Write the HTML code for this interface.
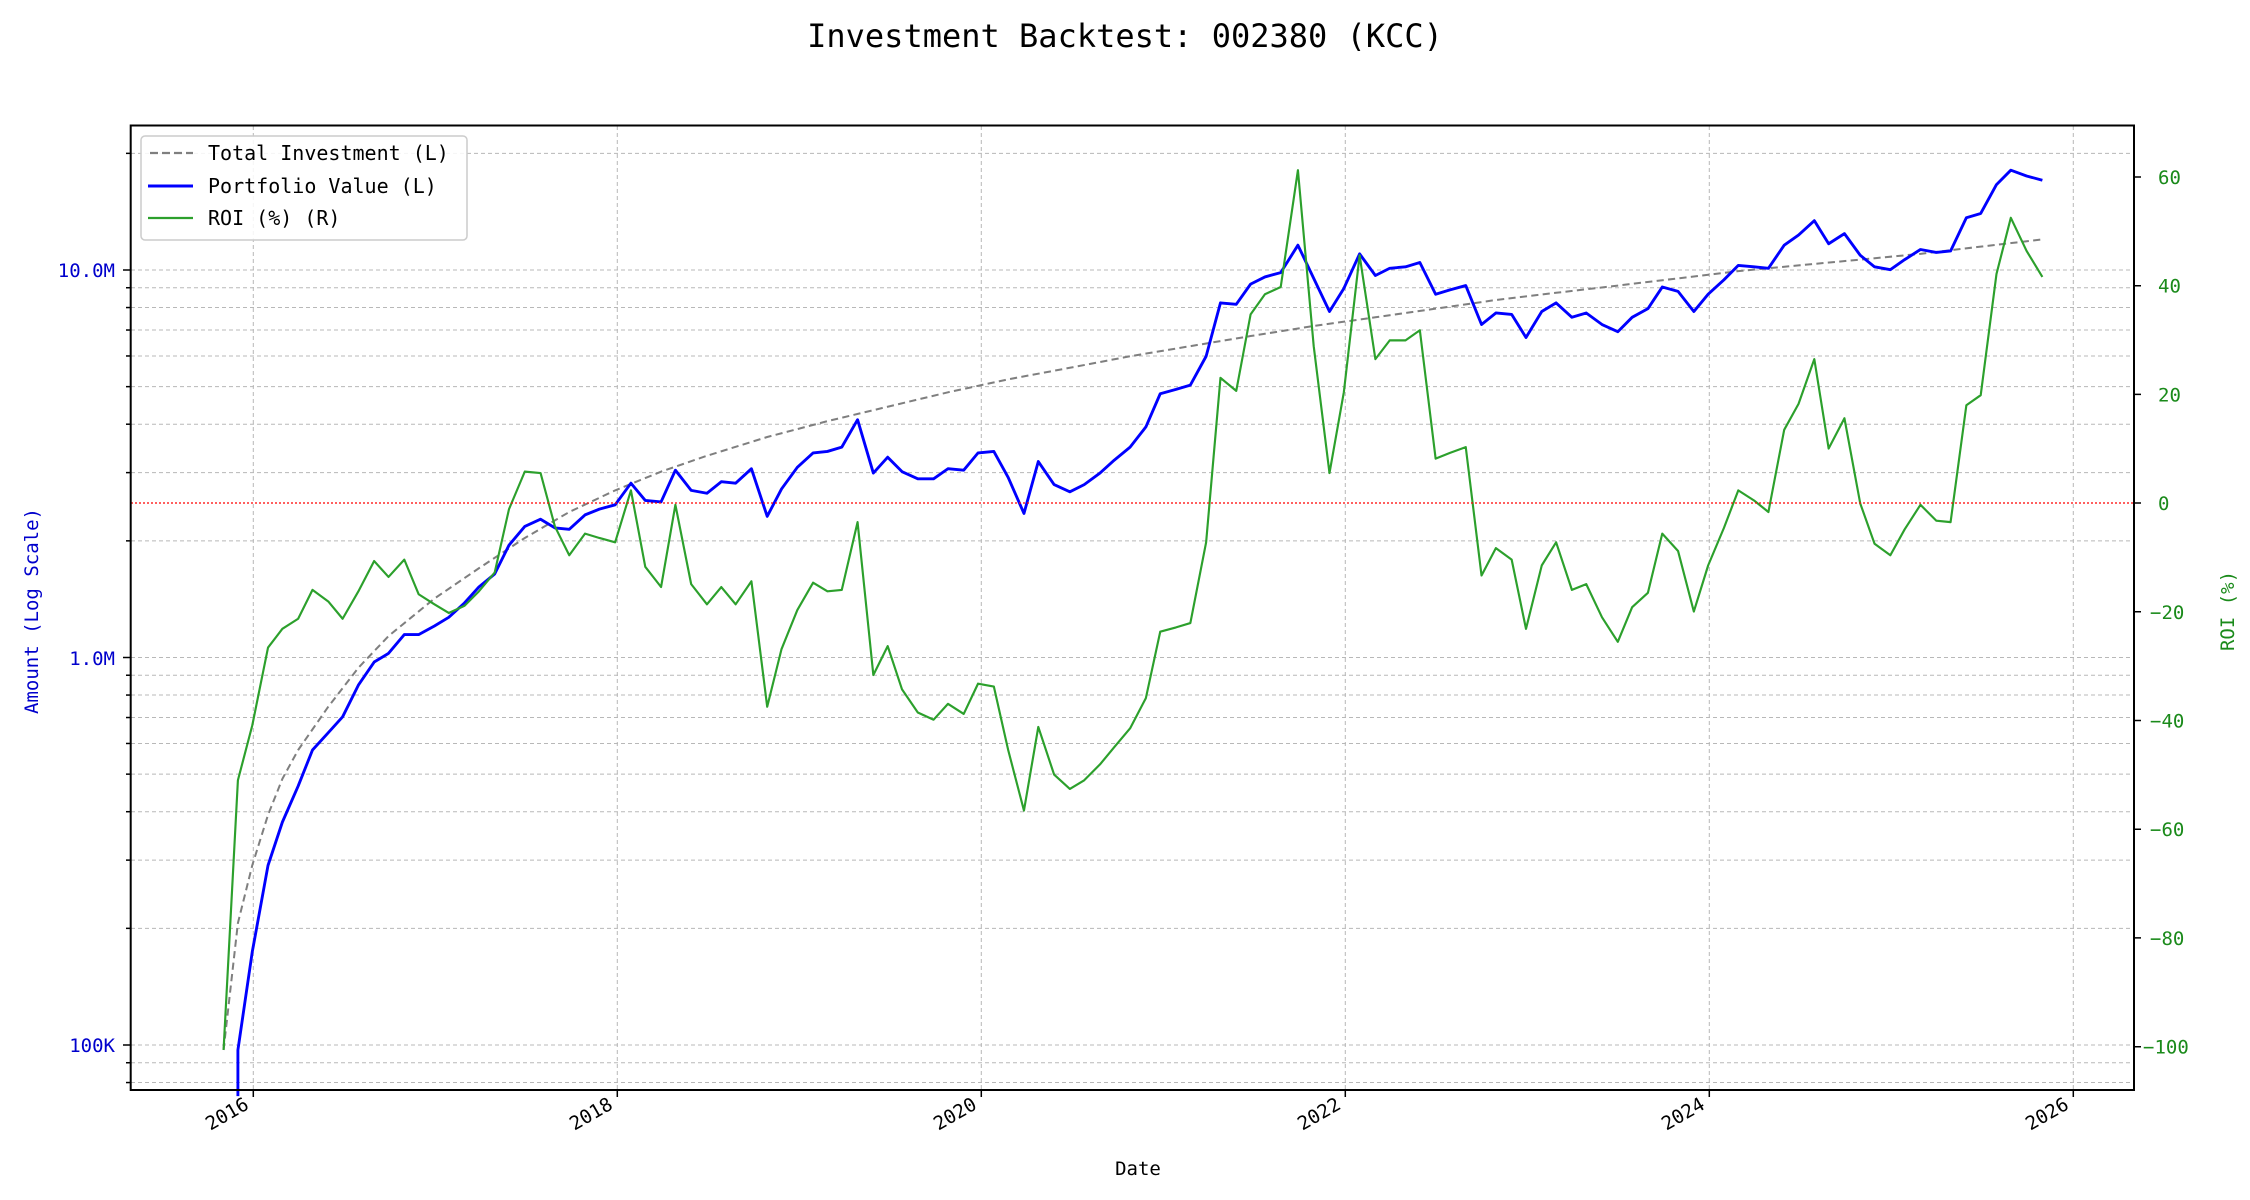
<!DOCTYPE html>
<html><head><meta charset="utf-8"><style>body{margin:0;background:#fff}svg{display:block}text{font-family:"DejaVu Sans Mono","Liberation Mono",monospace}</style></head><body>
<svg width="2250" height="1200" viewBox="0 0 2250 1200" xmlns="http://www.w3.org/2000/svg">
<rect width="2250" height="1200" fill="#fff"/>
<text x="1125" y="47" font-size="32" text-anchor="middle" fill="#000">Investment Backtest: 002380 (KCC)</text>
<g stroke="#b8b8b8" stroke-width="1" stroke-dasharray="4,3" fill="none">
<path d="M253.3 126V1090M617.3 126V1090M981.3 126V1090M1345.3 126V1090M1709.3 126V1090M2073.3 126V1090"/>
</g>
<g id="grid" stroke="#b8b8b8" stroke-width="1" stroke-dasharray="4,3"></g>
<g transform="matrix(1.4344,0,0,1.4423,1.23,0)" fill="none" stroke-linejoin="round">
<polyline stroke="#7f7f7f" stroke-width="1.4" stroke-dasharray="5,3" points="155,728 165,640 175,600 186,565 196,540 207,520 228,490 249,463 270,441 302,415 333,394 365,373 396,355 428,340 460,327 492,316 534,303 576,292 618,282 660,272 702,263 745,255 787,247 829,240 871,233 915,226 958,220 1000,214 1042,208 1084,203 1127,198 1169,193 1211,188 1253,184 1296,180 1338,176 1380,171 1423,166"/>
<polyline stroke="#0000ff" stroke-width="2" points="165,760 165,728 175,660 186,600 196,570 207,545 217,520 228,508 238,497 249,475 260,459 270,453 281,440 291,440 302,434 312,428 323,418 333,407 344,398 354,378 365,365 376,360 386,366 396,367 407,357 417,353 428,350 439,335 449,347 460,348 470,326 481,340 492,342 502,334 512,335 523,325 534,358 544,339 555,324 566,314 576,313 586,310 597,291 608,328 618,317 628,327 639,332 650,332 660,325 671,326 681,314 692,313 702,331 713,356 723,320 734,336 745,341 755,336 766,328 776,319 787,310 798,296 808,273 819,270 829,267 840,247 850,210 861,211 871,197 881,192 892,189 904,170 915,193 926,216 936,200 947,176 958,191 968,186 979,185 989,182 1000,204 1010,201 1021,198 1032,225 1042,217 1053,218 1063,234 1074,216 1084,210 1095,220 1105,217 1116,225 1127,230 1137,220 1148,214 1158,199 1169,202 1180,216 1190,204 1201,194 1211,184 1222,185 1232,186 1243,170 1253,163 1264,153 1274,169 1285,162 1296,177 1306,185 1317,187 1327,180 1338,173 1349,175 1359,174 1370,151 1380,148 1391,128 1401,118 1412,122 1423,125"/>
<polyline stroke="#2ca02c" stroke-width="1.5" points="155,728 165,541 175,503 186,449 196,436 207,429 217,409 228,417 238,429 249,410 260,389 270,400 281,388 291,412 302,419 312,425 323,420 333,410 344,397 354,353 365,327 376,328 386,365 396,385 407,370 417,373 428,376 439,340 449,393 460,407 470,350 481,405 492,419 502,407 512,419 523,403 534,490 544,450 555,423 566,404 576,410 586,409 597,362 608,468 618,448 628,478 639,494 650,499 660,488 671,495 681,474 692,476 702,520 713,562 723,504 734,537 745,547 755,541 766,530 776,518 787,505 798,484 808,438 819,435 829,432 840,376 850,262 861,271 871,218 881,204 892,199 904,118 915,240 926,328 936,272 947,177 958,249 968,236 979,236 989,229 1000,318 1010,314 1021,310 1032,399 1042,380 1053,388 1063,436 1074,392 1084,376 1095,409 1105,405 1116,428 1127,445 1137,421 1148,411 1158,370 1169,382 1180,424 1190,392 1201,366 1211,340 1222,347 1232,355 1243,298 1253,280 1264,249 1274,311 1285,290 1296,349 1306,377 1317,385 1327,367 1338,350 1349,361 1359,362 1370,281 1380,274 1391,190 1401,151 1412,174 1423,192"/>
</g>
<line x1="131" y1="503" x2="2133" y2="503" stroke="#ff0000" stroke-width="1.3" stroke-dasharray="2,2"/>
<rect x="130.7" y="125.5" width="2003.3" height="964.5" fill="none" stroke="#000" stroke-width="2"/>
<g id="lt" stroke="#000" stroke-width="1.5"></g>
<g font-size="19" fill="#0000cc" text-anchor="end">
<text x="115" y="277">10.0M</text><text x="115" y="665">1.0M</text><text x="115" y="1052">100K</text>
</g>
<g stroke="#000" stroke-width="1.5">
<path d="M2134 177h7M2134 285.7h7M2134 394.4h7M2134 503h7M2134 611.8h7M2134 720.5h7M2134 829.2h7M2134 937.9h7M2134 1046.7h7"/>
<path d="M253.3 1090v7M617.3 1090v7M981.3 1090v7M1345.3 1090v7M1709.3 1090v7M2073.3 1090v7"/>
</g>
<g font-size="19" fill="#1a8a1a">
<text x="2158" y="184">60</text><text x="2158" y="292.7">40</text><text x="2158" y="401.4">20</text><text x="2158" y="510">0</text><text x="2150" y="618.8">−20</text><text x="2150" y="727.5">−40</text><text x="2150" y="836.2">−60</text><text x="2150" y="944.9">−80</text><text x="2143" y="1053.7">−100</text>
</g>
<g font-size="19" fill="#000" text-anchor="end">
<text transform="translate(250,1108) rotate(-30)">2016</text>
<text transform="translate(614,1108) rotate(-30)">2018</text>
<text transform="translate(978,1108) rotate(-30)">2020</text>
<text transform="translate(1342,1108) rotate(-30)">2022</text>
<text transform="translate(1706,1108) rotate(-30)">2024</text>
<text transform="translate(2070,1108) rotate(-30)">2026</text>
</g>
<text x="1138" y="1175" font-size="19" text-anchor="middle">Date</text>
<text transform="translate(38,611) rotate(-90)" font-size="19" fill="#0000cc" text-anchor="middle">Amount (Log Scale)</text>
<text transform="translate(2234,611) rotate(-90)" font-size="19" fill="#1a8a1a" text-anchor="middle">ROI (%)</text>
<rect x="141" y="136" width="326" height="104" rx="4" fill="#fff" fill-opacity="0.85" stroke="#ccc" stroke-width="1.5"/>
<line x1="150" y1="153" x2="193" y2="153" stroke="#7f7f7f" stroke-width="2.2" stroke-dasharray="8,4"/>
<line x1="148" y1="186" x2="193" y2="186" stroke="#0000ff" stroke-width="3"/>
<line x1="148" y1="218" x2="193" y2="218" stroke="#2ca02c" stroke-width="2.2"/>
<g font-size="20" fill="#000"><text x="208" y="160">Total Investment (L)</text><text x="208" y="193">Portfolio Value (L)</text><text x="208" y="225">ROI (%) (R)</text></g>
<script>
(function(){var ns="http://www.w3.org/2000/svg",g=document.getElementById("grid"),t=document.getElementById("lt");
for(var e=4;e<=7;e++)for(var m=1;m<10;m++){var v=Math.log10(m)+e;var y=270+(7-v)*387.5;if(y<127||y>1089)continue;
var l=document.createElementNS(ns,"line");l.setAttribute("x1",131);l.setAttribute("x2",2133);l.setAttribute("y1",y);l.setAttribute("y2",y);g.appendChild(l);
var k=document.createElementNS(ns,"line");k.setAttribute("x1",m==1?123:126);k.setAttribute("x2",130.7);k.setAttribute("y1",y);k.setAttribute("y2",y);t.appendChild(k);}})();
</script>
</svg>
</body></html>
